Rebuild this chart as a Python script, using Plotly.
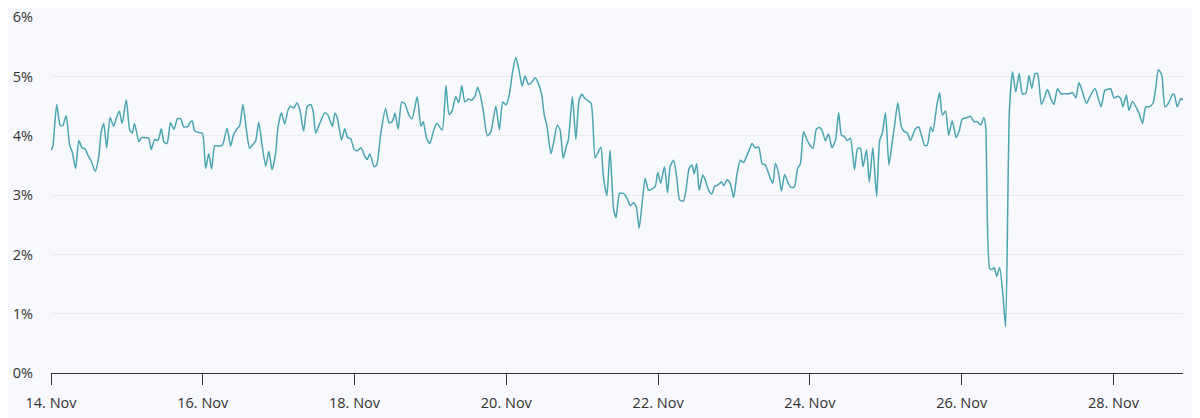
import pandas as pd
import plotly.graph_objects as go

# hours since 14 Nov 00:00 and share in percent
hours = [
    0.1, 0.6, 1.8, 2.9, 3.7, 4.8, 5.9, 6.7, 7.8, 8.8, 9.8, 10.8, 11.7, 12.7, 14.0,
    15.1, 15.9, 16.7, 17.6, 18.7, 19.8, 20.6, 21.6, 22.5, 23.8, 24.9, 25.7, 26.4,
    27.8, 28.6, 30.1, 30.9, 31.7, 32.8, 33.8, 34.9, 35.7, 36.7, 37.8, 38.9, 40.0,
    41.0, 42.0, 43.3, 43.9,
    44.7, 45.4, 46.5, 47.9, 48.9, 49.9, 50.8, 51.8, 52.8, 54.1, 54.6, 55.7, 56.8,
    57.8, 58.6, 59.7, 60.7, 61.8, 62.8, 63.9, 64.7, 65.7, 66.7, 67.9, 68.9, 69.9,
    71.0, 71.8, 72.9, 73.9, 75.0, 75.8, 76.8, 77.8, 78.7, 79.9, 81.0, 82.1, 82.9,
    83.7, 85.0, 86.6, 87.6, 89.0, 89.8,
    90.6, 91.9, 92.9, 93.8, 94.8, 95.9, 96.9, 98.0, 99.3, 100.0, 100.8, 102.2,
    103.0, 104.3, 105.8, 106.9, 107.9, 108.8, 109.8, 110.9, 111.9, 113.2, 114.2,
    115.8, 117.0, 117.7, 118.8, 119.8, 120.9, 122.0, 123.7, 124.9, 125.9, 126.9,
    128.0, 129.0, 129.9, 130.9, 132.0, 133.0, 134.1, 134.9, 135.7,
    136.7, 138.0, 139.1, 139.9, 140.7, 141.8, 142.9, 143.9, 145.0, 145.9, 147.0,
    148.0, 149.0, 149.9, 151.0, 152.0, 153.1, 154.1, 155.2, 156.0, 156.8, 158.1,
    158.9, 160.1, 161.0, 162.0, 162.9, 163.6, 164.9, 166.0, 167.0, 167.9, 168.7,
    169.6, 170.8, 172.1, 173.1, 173.9, 174.7, 175.8, 176.8, 177.9, 178.7, 179.8,
    180.9, 181.6,
    182.4, 183.2, 184.2, 185.1, 186.0, 187.1, 187.9, 189.0, 190.0, 191.1, 191.9,
    192.8, 194.0, 195.0, 195.8, 196.9, 198.0, 198.8, 200.0, 200.8, 201.8, 202.7,
    203.4, 204.2, 205.0, 206.1, 206.9, 208.0, 209.0, 209.9, 210.9, 212.0, 212.8,
    213.8, 214.8, 215.9, 216.9, 218.0, 219.0, 220.1, 220.9, 221.7, 222.7, 223.8,
    224.9, 225.9, 227.5,
    228.3, 229.1, 230.1, 231.0, 232.0, 233.0, 234.0, 235.1, 236.1, 237.0, 238.0,
    239.1, 240.2, 241.0, 242.1, 243.1, 244.0, 244.9, 245.9, 247.0, 248.1, 249.1,
    250.0, 250.9, 251.8, 252.8, 254.1, 255.1, 256.0, 256.8, 257.9, 258.8, 259.9,
    261.1, 262.1, 262.9, 263.9, 265.0, 266.0, 266.8, 267.8, 268.9, 269.7, 270.8,
    271.8, 273.4,
    274.4, 275.3, 276.3, 277.1, 278.2, 278.9, 280.0, 281.0, 281.9, 282.9, 283.9,
    285.0, 286.3, 287.3, 288.2, 289.8, 290.8, 291.9, 292.9, 294.0, 295.0, 295.6,
    296.9, 297.7, 298.3, 299.1, 300.0, 301.1, 301.9, 303.1, 304.1, 305.1, 306.2,
    307.2, 308.3, 309.3, 310.2, 311.2, 312.0, 313.2, 314.1, 315.1, 316.2, 317.2,
    318.3, 319.4,
    320.4, 322.0, 323.1, 324.1, 325.1, 326.2, 327.5, 328.9, 330.2, 331.2, 332.1,
    333.3, 334.6, 335.1, 336.2, 337.3, 338.3, 339.0, 340.1, 340.9, 342.0, 343.1,
    344.1, 345.2, 346.2, 347.3, 348.5, 349.4, 350.2, 351.3, 352.3, 353.4, 354.7,
    355.2, 356.2, 357.3, 358.0,
]
share = [
    3.76, 3.83, 4.53, 4.18, 4.17, 4.34, 3.84, 3.73, 3.45, 3.92, 3.80, 3.78, 3.67, 3.58, 3.40,
    3.65, 4.07, 4.21, 3.80, 4.31, 4.16, 4.29, 4.42, 4.21, 4.61, 4.10, 4.05, 4.21,
    3.90, 3.97, 3.97, 3.96, 3.77, 3.94, 3.92, 4.12, 3.90, 3.87, 4.22, 4.11, 4.29,
    4.29, 4.15, 4.16, 4.22,
    4.25, 4.08, 4.06, 4.04, 3.45, 3.70, 3.44, 3.83, 3.83, 3.84, 3.90, 4.13, 3.83,
    4.03, 4.10, 4.18, 4.53, 4.10, 3.79, 3.86, 3.91, 4.23, 3.87, 3.49, 3.74, 3.43,
    3.69, 4.15, 4.39, 4.20, 4.44, 4.50, 4.47, 4.56, 4.44, 4.08, 4.49, 4.53, 4.42,
    4.05, 4.21, 4.39, 4.35, 4.16, 4.38,
    4.29, 3.93, 4.12, 3.97, 3.95, 3.77, 3.75, 3.80, 3.65, 3.60, 3.70, 3.48,
    3.51, 4.04, 4.46, 4.22, 4.24, 4.38, 4.11, 4.57, 4.54, 4.35, 4.29,
    4.66, 4.16, 4.24, 3.96, 3.87, 4.07, 4.21, 4.10, 4.85, 4.36, 4.43,
    4.66, 4.56, 4.85, 4.57, 4.62, 4.60, 4.67, 4.82, 4.70,
    4.43, 4.00, 4.07, 4.29, 4.50, 4.10, 4.57, 4.52, 4.71, 5.05, 5.32,
    5.11, 4.84, 5.01, 4.87, 4.90, 4.98, 4.89, 4.69, 4.35, 4.18, 3.70,
    3.87, 4.18, 4.10, 3.62, 3.81, 3.93, 4.66, 3.94, 4.60, 4.70, 4.64,
    4.60, 4.55, 3.63, 3.73, 3.81, 3.31, 2.99, 3.76, 2.78, 2.62, 3.03,
    3.03, 3.00,
    2.92, 2.82, 2.87, 2.80, 2.44, 2.94, 3.28, 3.08, 3.10, 3.15, 3.38,
    3.20, 3.48, 3.04, 3.48, 3.59, 3.25, 2.92, 2.90, 3.08, 3.45, 3.51,
    3.36, 3.53, 3.08, 3.34, 3.26, 3.08, 3.02, 3.15, 3.17, 3.22, 3.16,
    3.26, 3.20, 2.96, 3.34, 3.59, 3.55, 3.67, 3.77, 3.87, 3.80, 3.81,
    3.53, 3.51, 3.28,
    3.20, 3.54, 3.37, 3.07, 3.35, 3.22, 3.13, 3.14, 3.45, 3.53, 4.07,
    3.93, 3.83, 3.79, 4.12, 4.14, 4.07, 3.92, 4.03, 3.80, 3.93, 4.39,
    4.01, 3.99, 3.92, 3.96, 3.43, 3.79, 3.79, 3.48, 3.76, 3.22, 3.80,
    2.98, 3.93, 4.04, 4.39, 3.51, 3.88, 4.18, 4.56, 4.16, 4.08, 4.05,
    3.92, 4.12,
    4.15, 4.01, 3.84, 3.84, 4.15, 4.07, 4.46, 4.73, 4.35, 4.42, 4.01,
    4.25, 3.97, 4.10, 4.28, 4.31, 4.33, 4.24, 4.24, 4.18, 4.31, 4.16,
    1.76, 1.75, 1.78, 1.63, 1.78, 1.29, 0.78, 4.43, 5.08, 4.74, 5.05,
    4.71, 4.72, 5.02, 4.80, 5.05, 5.05, 4.53, 4.63, 4.78, 4.63, 4.53,
    4.80, 4.71,
    4.71, 4.71, 4.73, 4.64, 4.90, 4.74, 4.55, 4.70, 4.80, 4.63, 4.49,
    4.77, 4.79, 4.80, 4.64, 4.67, 4.63, 4.49, 4.69, 4.43, 4.58, 4.49,
    4.38, 4.21, 4.49, 4.49, 4.55, 4.81, 5.12, 5.02, 4.49, 4.55, 4.70,
    4.70, 4.49, 4.63, 4.60,
]

start = pd.Timestamp("2023-11-14")
times = start + pd.to_timedelta(hours, unit="h")

fig = go.Figure()
fig.add_trace(go.Scatter(
    x=times, y=share, mode="lines",
    line=dict(color="#4aa5b0", width=1.5, shape="spline", smoothing=0.6),
    hoverinfo="x+y",
))

# page body has an 8px margin, so the figure is sized to fit inside the window
fig.update_layout(
    width=1192, height=410,
    margin=dict(l=43, r=17, t=9, b=45),
    paper_bgcolor="#f8f9fc", plot_bgcolor="#f8f9fc",
    font=dict(family="Open Sans", size=14.5, color="#333333"),
    showlegend=False,
)
fig.update_xaxes(
    type="date",
    range=[start, times[-1]],
    tick0=start, dtick=2 * 24 * 3600 * 1000,
    tickformat="%d. %b",
    showgrid=False, zeroline=False,
    showline=True, linecolor="#333333", linewidth=1,
    ticks="outside", ticklen=11, tickcolor="#333333", tickwidth=1,
    ticklabelstandoff=6, automargin=False,
)
fig.update_yaxes(
    range=[0, 6.005], dtick=1, ticksuffix="%",
    showgrid=True, gridcolor="#e9ebef", gridwidth=1,
    zeroline=False, ticklabelstandoff=17, automargin=False,
    ticklabeloverflow="allow",
)

fig.write_html("out.html")
